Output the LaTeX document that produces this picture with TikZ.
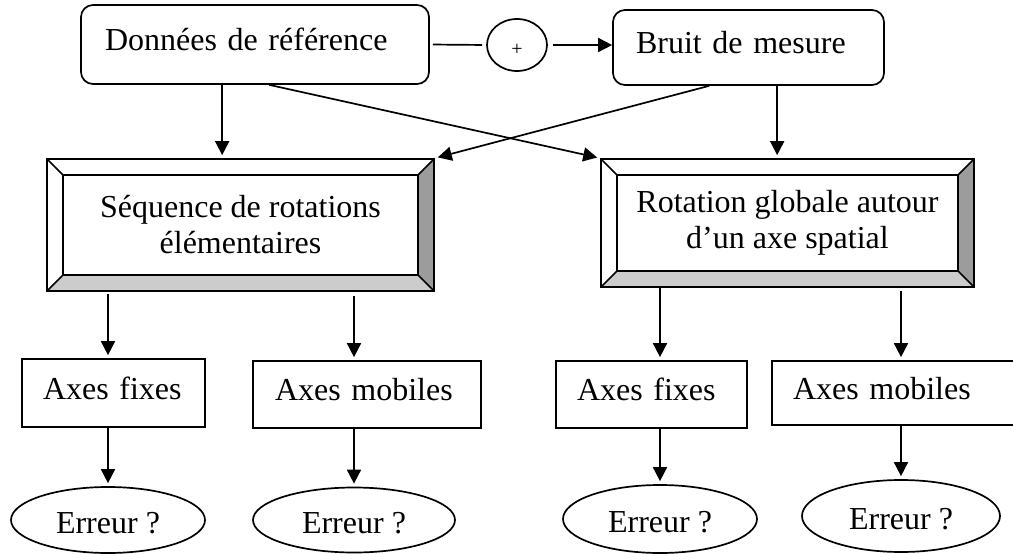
\documentclass[tikz,border=0pt]{standalone}
\usepackage{fontspec}
\setmainfont{Liberation Serif}[Ligatures=NoCommon]
\usetikzlibrary{arrows.meta,shapes.geometric,calc}

\definecolor{bevlight}{HTML}{CCCCCC}
\definecolor{beveldark}{HTML}{9C9C9C}
\newcommand{\bevw}{16pt}

\tikzset{
  base/.style={font=\fontsize{32}{36}\selectfont},
  oneline/.style={text height=22pt, text depth=10pt},
  roundbox/.style={base, oneline, draw, rounded corners=12pt, align=left, inner ysep=0pt},
  axbox/.style={base, oneline, draw, align=left, inner ysep=0pt},
  errell/.style={base, draw, shape=ellipse, inner sep=0pt, text height=27pt, text depth=0pt},
  sumnode/.style={draw, shape=ellipse, inner sep=0pt, minimum width=60pt, minimum height=52pt,
    font=\fontsize{20}{24}\selectfont, text height=22pt, text depth=0pt},
  bevelbox/.style={base, draw, align=center, inner sep=0pt,
    path picture={
      \coordinate (bsw) at (path picture bounding box.south west);
      \coordinate (bne) at (path picture bounding box.north east);
      \coordinate (bnw) at (path picture bounding box.north west);
      \coordinate (bse) at (path picture bounding box.south east);
      \coordinate (isw) at ($(bsw)+(\bevw,\bevw)$);
      \coordinate (ine) at ($(bne)+(-\bevw,-\bevw)$);
      \coordinate (inw) at ($(bnw)+(\bevw,-\bevw)$);
      \coordinate (ise) at ($(bse)+(-\bevw,\bevw)$);
      \fill[bevlight] (bsw) -- (bse) -- (ise) -- (isw) -- cycle;
      \fill[beveldark] (bse) -- (bne) -- (ine) -- (ise) -- cycle;
      \draw (isw) rectangle (ine);
      \draw (bsw) -- (isw) (bse) -- (ise) (bne) -- (ine) (bnw) -- (inw);
    }},
  arr/.style={-{Triangle[length=14pt,width=14pt]}, shorten >=3pt},
}

\begin{document}
\begin{tikzpicture}[x=1pt, y=-1pt, line width=1.7pt]
\useasboundingbox (0,0) rectangle (1013,554);
\clip (0,0) rectangle (1013,554);

% top row: reference data, summation, measurement noise
\node[roundbox, minimum width=348pt, minimum height=79pt, text width=300pt, inner xsep=24pt]
  (ref) at (255,44.5) {Données de référence};
\node[sumnode] (sum) at (517,45) {+};
\node[roundbox, minimum width=271pt, minimum height=75pt, text width=225pt, inner xsep=23pt]
  (noise) at (748.5,47.5) {Bruit de mesure};

% bevelled boxes: the two rotation methods
\node[bevelbox, minimum width=387pt, minimum height=132pt]
  (seq) at (240.5,225) {Séquence de rotations\\élémentaires};
\node[bevelbox, minimum width=373pt, minimum height=128pt]
  (rot) at (787.5,223) {Rotation globale autour\\d’un axe spatial};

% axes conventions
\node[axbox, minimum width=183pt, minimum height=68pt, text width=141pt, inner xsep=21pt]
  (fixL) at (113.5,393) {Axes fixes};
\node[axbox, minimum width=228pt, minimum height=67pt, text width=184pt, inner xsep=22pt]
  (mobL) at (367,394.5) {Axes mobiles};
\node[axbox, minimum width=191pt, minimum height=67pt, text width=149pt, inner xsep=21pt]
  (fixR) at (651.5,394.5) {Axes fixes};
\node[axbox, minimum width=248pt, minimum height=64pt, text width=206pt, inner xsep=21pt]
  (mobR) at (896,393) {Axes mobiles};

% error evaluation
\node[errell, minimum width=194pt, minimum height=66pt] (errA) at (108,520) {Erreur ?};
\node[errell, minimum width=202pt, minimum height=65pt] (errB) at (354,520) {Erreur ?};
\node[errell, minimum width=194pt, minimum height=68pt] (errC) at (660,519) {Erreur ?};
\node[errell, minimum width=198pt, minimum height=72pt] (errD) at (901,516) {Erreur ?};

% connectors
\draw[shorten <=3pt, shorten >=4pt] (ref.east) -- (sum.west);
\draw[arr, shorten <=5pt, shorten >=0pt] (sum.east) -- (sum.east -| noise.west);

\coordinate (refdown) at ([xshift=142pt]ref.south west);
\coordinate (refdiag) at ([xshift=189pt]ref.south west);
\coordinate (noisediag) at ([xshift=97pt]noise.south west);
\coordinate (noisedown) at ([xshift=165pt]noise.south west);

\draw[arr] (refdown) -- (refdown |- seq.north);
\draw[arr] (noisedown) -- (noisedown |- rot.north);
\draw[arr] (refdiag) -- (rot.north west);
\draw[arr] (noisediag) -- (seq.north east);

\draw[arr, shorten <=2pt] (errA |- seq.south) -- (errA |- fixL.north);
\draw[arr, shorten <=4pt] (errB |- seq.south) -- (errB |- mobL.north);
\draw[arr] (errC |- rot.south) -- (errC |- fixR.north);
\draw[arr, shorten <=3pt] (errD |- rot.south) -- (errD |- mobR.north);

\draw[arr] (errA |- fixL.south) -- (errA.north);
\draw[arr] (errB |- mobL.south) -- (errB.north);
\draw[arr] (errC |- fixR.south) -- (errC.north);
\draw[arr] (errD |- mobR.south) -- (errD.north);
\end{tikzpicture}
\end{document}
